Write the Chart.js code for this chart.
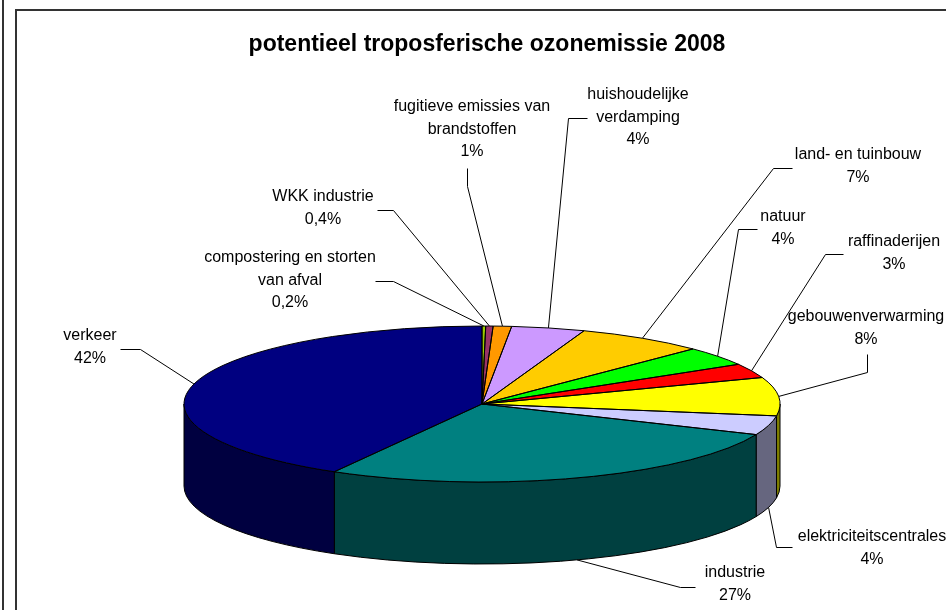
<!DOCTYPE html>
<html>
<head>
<meta charset="utf-8">
<title>potentieel troposferische ozonemissie 2008</title>
<script src="https://cdn.jsdelivr.net/npm/chart.js@4.4.0/dist/chart.umd.min.js"></script>
<style>
  html, body { margin: 0; padding: 0; background: #fff; overflow: hidden; }
  #wrap { position: relative; width: 946px; height: 610px; }
  .rule { position: absolute; left: 2px; top: 0; width: 2px; height: 610px; background: #333; }
  .frame { position: absolute; left: 15px; top: 9px; width: 940px; height: 700px; border: 2px solid #333; }
  canvas { position: absolute; left: 0; top: 0; }
</style>
</head>
<body>
<div id="wrap">
  <div class="rule"></div>
  <div class="frame"></div>
  <canvas id="chart" width="946" height="610"></canvas>
</div>
<script>
// data, clockwise from 12 o'clock
const categories = [
  'compostering en storten\nvan afval',
  'WKK industrie',
  'fugitieve emissies van\nbrandstoffen',
  'huishoudelijke\nverdamping',
  'land- en tuinbouw',
  'natuur',
  'raffinaderijen',
  'gebouwenverwarming',
  'elektriciteitscentrales',
  'industrie',
  'verkeer'
];
const shares = [0.2, 0.4, 1, 4, 7, 4, 3, 8, 4, 27, 42];
const colors = ['#99CC00', '#993366', '#FF9900', '#CC99FF', '#FFCC00', '#00FF00',
                '#FF0000', '#FFFF00', '#CCCCFF', '#008080', '#000080'];

// where the pie ellipse sits on the page
const CX = 482, CY = 404, RX = 298, RY = 78, DEPTH = 82;
const FONT = '"Liberation Sans", Arial, sans-serif';
const LINE_GAP = 22.5;

// label text centre (first line) and the two leader points near the text
const labelLayout = [
  { x: 290, y: 258, path: [[375, 281], [393, 281]] },
  { x: 323, y: 197, path: [[377, 210], [393, 210]] },
  { x: 472, y: 107, path: [[467, 168], [467, 186]] },
  { x: 638, y: 95,  path: [[587, 118], [568, 118]] },
  { x: 858, y: 155, path: [[792, 168], [773, 168]] },
  { x: 783, y: 217, path: [[757, 229], [738, 229]] },
  { x: 894, y: 242, path: [[843, 254], [825, 254]] },
  { x: 866, y: 317, path: [[867, 354], [867, 372]] },
  { x: 872, y: 537, path: [[792, 547], [776, 547]] },
  { x: 735, y: 573, path: [[695, 587], [680, 587]] },
  { x: 90,  y: 336, path: [[120, 349], [140, 349]] }
];

function darken(hex) {
  const n = parseInt(hex.slice(1), 16);
  const r = (n >> 16) >> 1, g = ((n >> 8) & 255) >> 1, b = (n & 255) >> 1;
  return `rgb(${r},${g},${b})`;
}
const sideColors = colors.map(darken);

function rim(angle, dy) {
  return [CX + RX * Math.cos(angle), CY + RY * Math.sin(angle) + (dy || 0)];
}

const pie3d = {
  id: 'pie3d',
  beforeDatasetsDraw(chart) {
    const ctx = chart.ctx;
    const arcs = chart.getDatasetMeta(0).data;

    // outer walls, only the front half shows
    ctx.save();
    ctx.lineWidth = 1;
    ctx.strokeStyle = '#000';
    arcs.forEach((arc, i) => {
      const { startAngle, endAngle } = arc.getProps(['startAngle', 'endAngle'], true);
      const lo = Math.max(startAngle, 0);
      const hi = Math.min(endAngle, Math.PI);
      if (lo >= hi) return;
      ctx.beginPath();
      ctx.ellipse(CX, CY, RX, RY, 0, lo, hi);
      ctx.ellipse(CX, CY + DEPTH, RX, RY, 0, hi, lo, true);
      ctx.closePath();
      ctx.fillStyle = sideColors[i];
      ctx.fill();
      ctx.stroke();
    });
    ctx.restore();

    // squash the library's circle onto the top ellipse
    const { x, y, outerRadius } = arcs[0].getProps(['x', 'y', 'outerRadius'], true);
    ctx.save();
    ctx.translate(CX, CY);
    ctx.scale(RX / outerRadius, RY / outerRadius);
    ctx.translate(-x, -y);
  },
  afterDatasetsDraw(chart) {
    const ctx = chart.ctx;
    ctx.restore();
    const arcs = chart.getDatasetMeta(0).data;

    ctx.save();
    ctx.lineWidth = 1;
    ctx.strokeStyle = '#000';
    arcs.forEach(arc => {
      const { startAngle, endAngle } = arc.getProps(['startAngle', 'endAngle'], true);
      ctx.beginPath();
      ctx.moveTo(CX, CY);
      ctx.ellipse(CX, CY, RX, RY, 0, startAngle, endAngle);
      ctx.closePath();
      ctx.stroke();
    });

    // labels with leader lines
    ctx.font = '16px ' + FONT;
    ctx.fillStyle = '#000';
    ctx.textAlign = 'center';
    ctx.textBaseline = 'middle';
    arcs.forEach((arc, i) => {
      const { startAngle, endAngle } = arc.getProps(['startAngle', 'endAngle'], true);
      const mid = (startAngle + endAngle) / 2;
      const anchor = rim(mid, Math.sin(mid) > 0 ? DEPTH : 0);
      const lay = labelLayout[i];

      ctx.beginPath();
      ctx.moveTo(lay.path[0][0] + 0.5, lay.path[0][1] + 0.5);
      ctx.lineTo(lay.path[1][0] + 0.5, lay.path[1][1] + 0.5);
      ctx.lineTo(anchor[0], anchor[1]);
      ctx.stroke();

      const lines = categories[i].split('\n');
      lines.push(String(shares[i]).replace('.', ',') + '%');
      lines.forEach((t, k) => ctx.fillText(t, lay.x, lay.y + k * LINE_GAP));
    });
    ctx.restore();
  }
};

new Chart(document.getElementById('chart'), {
  type: 'pie',
  data: {
    labels: categories,
    datasets: [{
      data: shares,
      backgroundColor: colors,
      borderWidth: 0,
      clip: false
    }]
  },
  options: {
    responsive: false,
    animation: false,
    events: [],
    rotation: 0,
    layout: { padding: { left: 28 } },
    plugins: {
      legend: { display: false },
      tooltip: { enabled: false },
      title: {
        display: true,
        text: 'potentieel troposferische ozonemissie 2008',
        color: '#000',
        font: { family: FONT, size: 23, weight: 'bold' },
        padding: { top: 31, bottom: 10 }
      }
    }
  },
  plugins: [pie3d]
});
</script>
</body>
</html>
